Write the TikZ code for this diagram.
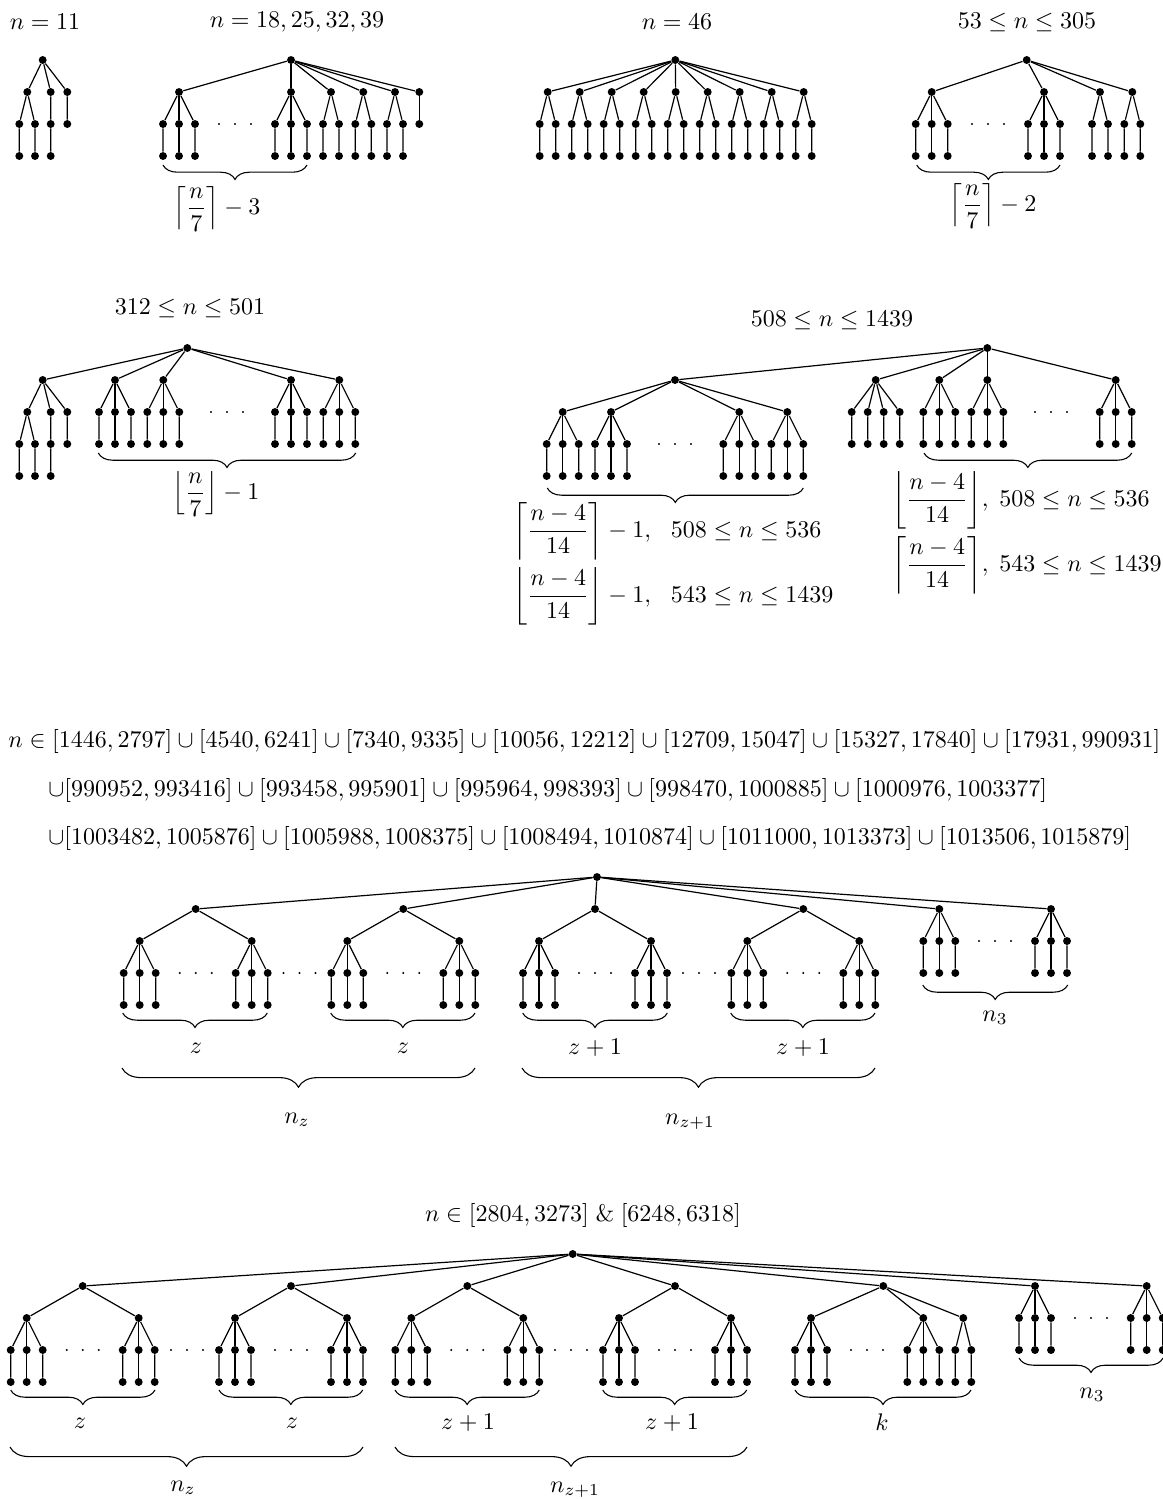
\documentclass[tikz,border=0pt]{standalone}
\usetikzlibrary{decorations.pathreplacing}
\tikzset{
 vtx/.style={circle,fill,inner sep=0pt,minimum size=3.3pt},
 edge/.style={line width=0.5pt},
 brc/.style={decorate,decoration={brace,mirror,amplitude=6pt},line width=0.45pt},
 bigbrc/.style={decorate,decoration={brace,mirror,amplitude=8pt},line width=0.45pt},
 lbl/.style={inner sep=0pt},
}
\newcommand{\Tthree}[3]{%
 \node[vtx] (#1) at (#2,#3) {};
 \foreach \s/\d in {a/-16,b/0,c/16}{
  \node[vtx] (#1\s) at ({#2+(\d)},{#3+32}) {};
  \node[vtx] (#1\s l) at ({#2+(\d)},{#3+64}) {};
  \draw[edge] (#1) -- (#1\s) -- (#1\s l);
 }}
\newcommand{\Ttwo}[3]{%
 \node[vtx] (#1) at (#2,#3) {};
 \foreach \s/\d in {a/-8,b/8}{
  \node[vtx] (#1\s) at ({#2+(\d)},{#3+32}) {};
  \node[vtx] (#1\s l) at ({#2+(\d)},{#3+64}) {};
  \draw[edge] (#1) -- (#1\s) -- (#1\s l);
 }}
\newcommand{\Tfour}[3]{%
 \node[vtx] (#1) at (#2,#3) {};
 \foreach \s/\d in {a/-24,b/-8,c/8,d/24}{
  \node[vtx] (#1\s) at ({#2+(\d)},{#3+32}) {};
  \node[vtx] (#1\s l) at ({#2+(\d)},{#3+64}) {};
  \draw[edge] (#1) -- (#1\s) -- (#1\s l);
 }}
\newcommand{\threedots}[2]{%
 \foreach \k in {-16,0,16}{\fill ({#1+(\k)},#2) circle[radius=1.1];}}
\newcommand{\Tz}[3]{%
 \node[vtx] (#1) at (#2,#3) {};
 \Tthree{#1L}{#2-56}{#3+32}
 \Tthree{#1R}{#2+56}{#3+32}
 \draw[edge] (#1L) -- (#1) -- (#1R);
 \threedots{#2}{#3+64}}
\newcommand{\Televen}[3]{%
 \node[vtx] (#1) at (#2,#3) {};
 \node[vtx] (#1A) at ({#2-15.4},{#3+32}) {};
 \node[vtx] (#1B) at ({#2+8},{#3+32}) {};
 \node[vtx] (#1C) at ({#2+24.6},{#3+32}) {};
 \node[vtx] (#1a) at ({#2-23.4},{#3+64}) {};
 \node[vtx] (#1b) at ({#2-7.7},{#3+64}) {};
 \node[vtx] (#1c) at ({#2+8},{#3+64}) {};
 \node[vtx] (#1d) at ({#2+24.6},{#3+64}) {};
 \node[vtx] (#1e) at ({#2-23.4},{#3+96}) {};
 \node[vtx] (#1f) at ({#2-7.7},{#3+96}) {};
 \node[vtx] (#1g) at ({#2+8},{#3+96}) {};
 \draw[edge] (#1A) -- (#1) -- (#1B) (#1) -- (#1C) (#1A) -- (#1a) -- (#1e)
   (#1A) -- (#1b) -- (#1f) (#1B) -- (#1c) -- (#1g) (#1C) -- (#1d);}
\begin{document}
\begin{tikzpicture}[x=0.41667pt,y=-0.41667pt]
\useasboundingbox (0,0) rectangle (1163,1499);
% ---------- titles row 1
\node[lbl] (h1) at (45,22) {$n=11$};
\node[lbl] (h2) at (297,22) {$n=18,25,32,39$};
\node[lbl] (h3) at (677,22) {$n=46$};
\node[lbl] (h4) at (1027,22) {$53\le n\le 305$};
% ---------- tree 1
\Televen{t1}{42.7}{60}
% ---------- tree 2
\node[vtx] (r2) at (291,60) {};
\Tthree{t2a}{179}{92}
\Tthree{t2b}{291}{92}
\Ttwo{t2c}{331}{92}
\Ttwo{t2d}{363.3}{92}
\Ttwo{t2e}{395}{92}
\node[vtx] (t2f) at (419.3,92) {};
\node[vtx] (t2g) at (419.3,124) {};
\foreach \t in {t2a,t2b,t2c,t2d,t2e,t2f} \draw[edge] (r2) -- (\t);
\draw[edge] (t2f) -- (t2g);
\threedots{235}{124}
\coordinate (b2a) at (163,165); \coordinate (b2b) at (307,165);
\draw[brc] (b2a) -- (b2b);
\node[lbl] (l2) at (217,209) {$\displaystyle\left\lceil\frac{n}{7}\right\rceil-3$};
% ---------- tree 3
\node[vtx] (r3) at (675.3,60) {};
\foreach \k in {0,...,8}{\Ttwo{t3\k}{547.7+32*\k}{92} \draw[edge] (r3) -- (t3\k);}
% ---------- tree 4
\node[vtx] (r4) at (1026.7,60) {};
\Tthree{t4a}{931.7}{92}
\Tthree{t4b}{1044}{92}
\Ttwo{t4c}{1100}{92}
\Ttwo{t4d}{1132.3}{92}
\foreach \t in {t4a,t4b,t4c,t4d} \draw[edge] (r4) -- (\t);
\threedots{988}{124}
\coordinate (b4a) at (916.7,165); \coordinate (b4b) at (1060,165);
\draw[brc] (b4a) -- (b4b);
\node[lbl] (l4) at (993,206) {$\displaystyle\left\lceil\frac{n}{7}\right\rceil-2$};
% ---------- tree 5
\node[lbl] (h5) at (190,308) {$312\le n\le 501$};
\node[vtx] (r5) at (187.3,348) {};
\Televen{t5a}{42.7}{380}
\Tthree{t5b}{115}{380}
\Tthree{t5c}{163.3}{380}
\Tthree{t5d}{291}{380}
\Tthree{t5e}{339.3}{380}
\foreach \t in {t5a,t5b,t5c,t5d,t5e} \draw[edge] (r5) -- (\t);
\threedots{227}{412}
\coordinate (b5a) at (98.3,453); \coordinate (b5b) at (355.7,453);
\draw[brc] (b5a) -- (b5b);
\node[lbl] (l5) at (216,494) {$\displaystyle\left\lfloor\frac{n}{7}\right\rfloor-1$};
% ---------- tree 6
\node[lbl] (h6) at (832,320) {$508\le n\le 1439$};
\node[vtx] (r6) at (987.3,348) {};
\node[vtx] (t6L) at (675,380) {};
\Tthree{t6a}{562.7}{412}
\Tthree{t6b}{611}{412}
\Tthree{t6c}{739.3}{412}
\Tthree{t6d}{787.3}{412}
\foreach \t in {t6a,t6b,t6c,t6d} \draw[edge] (t6L) -- (\t);
\threedots{675}{444}
\coordinate (b6a) at (547.3,488); \coordinate (b6b) at (803.3,488);
\draw[brc] (b6a) -- (b6b);
\Tfour{t6e}{875.7}{380}
\Tthree{t6f}{939.3}{380}
\Tthree{t6g}{987.3}{380}
\Tthree{t6h}{1115.7}{380}
\foreach \t in {t6L,t6e,t6f,t6g,t6h} \draw[edge] (r6) -- (\t);
\threedots{1051}{412}
\coordinate (b6c) at (924,453); \coordinate (b6d) at (1131.7,453);
\draw[brc] (b6c) -- (b6d);
\node[lbl,anchor=west] (l6a) at (513,531) {$\displaystyle\left\lceil\frac{n-4}{14}\right\rceil-1,\ \ 508\le n\le 536$};
\node[lbl,anchor=west] (l6b) at (513,596) {$\displaystyle\left\lfloor\frac{n-4}{14}\right\rfloor-1,\ \ 543\le n\le 1439$};
\node[lbl,anchor=west] (l6c) at (892,500) {$\displaystyle\left\lfloor\frac{n-4}{14}\right\rfloor\!,\;508\le n\le 536$};
\node[lbl,anchor=west] (l6d) at (892,565) {$\displaystyle\left\lceil\frac{n-4}{14}\right\rceil\!,\;543\le n\le 1439$};
% ---------- equation lines
\node[lbl,anchor=west] (e1) at (8,741) {$n\in[1446,2797]\cup[4540,6241]\cup[7340,9335]\cup[10056,12212]\cup[12709,15047]\cup[15327,17840]\cup[17931,990931]$};
\node[lbl,anchor=west] (e2) at (48,790) {$\cup[990952,993416]\cup[993458,995901]\cup[995964,998393]\cup[998470,1000885]\cup[1000976,1003377]$};
\node[lbl,anchor=west] (e3) at (48,838) {$\cup[1003482,1005876]\cup[1005988,1008375]\cup[1008494,1010874]\cup[1011000,1013373]\cup[1013506,1015879]$};
% ---------- tree 7
\node[vtx] (r7) at (597,877) {};
\Tz{t7a}{195.7}{909}
\Tz{t7b}{403.3}{909}
\Tz{t7c}{595}{909}
\Tz{t7d}{803.3}{909}
\Tthree{t7e}{939.3}{909}
\Tthree{t7f}{1051}{909}
\foreach \t in {t7a,t7b,t7c,t7d,t7e,t7f} \draw[edge] (r7) -- (\t);
\threedots{299.5}{973}
\threedots{699}{973}
\threedots{995}{941}
\foreach \i/\a/\b in {1/122.7/267.3,2/330.7/475,3/522.7/667.3,4/730.7/875}{
 \coordinate (b7\i a) at (\a,1013); \coordinate (b7\i b) at (\b,1013);
 \draw[brc] (b7\i a) -- (b7\i b);}
\coordinate (b7na) at (922.7,985); \coordinate (b7nb) at (1067.7,985);
\draw[brc] (b7na) -- (b7nb);
\node[lbl] (l7a) at (196,1048) {$z$};
\node[lbl] (l7b) at (403,1048) {$z$};
\node[lbl] (l7c) at (595,1048) {$z+1$};
\node[lbl] (l7d) at (803,1048) {$z+1$};
\node[lbl] (l7n) at (995,1018) {$n_3$};
\coordinate (b7za) at (122,1068); \coordinate (b7zb) at (475,1068);
\draw[bigbrc] (b7za) -- (b7zb);
\coordinate (b7ya) at (522,1068); \coordinate (b7yb) at (875,1068);
\draw[bigbrc] (b7ya) -- (b7yb);
\node[lbl] (l7z) at (297,1120) {$n_z$};
\node[lbl] (l7y) at (690,1122) {$n_{z+1}$};
% ---------- tree 8
\node[lbl] (h8) at (583,1215) {$n\in[2804,3273]\;\&\;[6248,6318]$};
\node[vtx] (r8) at (572.7,1254) {};
\Tz{t8a}{82.7}{1286}
\Tz{t8b}{291}{1286}
\Tz{t8c}{467.3}{1286}
\Tz{t8d}{675}{1286}
\node[vtx] (t8k) at (883.3,1286) {};
\Tthree{t8kL}{811}{1318}
\Tthree{t8kR}{923.3}{1318}
\Ttwo{t8kS}{963.3}{1318}
\foreach \t in {t8kL,t8kR,t8kS} \draw[edge] (t8k) -- (\t);
\threedots{867}{1350}
\Tthree{t8e}{1035}{1286}
\Tthree{t8f}{1146.7}{1286}
\threedots{1091}{1318}
\foreach \t in {t8a,t8b,t8c,t8d,t8k,t8e,t8f} \draw[edge] (r8) -- (\t);
\threedots{187}{1350}
\threedots{571}{1350}
\foreach \i/\a/\b in {1/10.7/155,2/219/362.7,3/395/539.3,4/602.7/746.7,5/795/971}{
 \coordinate (b8\i a) at (\a,1390); \coordinate (b8\i b) at (\b,1390);
 \draw[brc] (b8\i a) -- (b8\i b);}
\coordinate (b8na) at (1019,1358); \coordinate (b8nb) at (1163,1358);
\draw[brc] (b8na) -- (b8nb);
\node[lbl] (l8a) at (80,1423) {$z$};
\node[lbl] (l8b) at (292,1423) {$z$};
\node[lbl] (l8c) at (468,1423) {$z+1$};
\node[lbl] (l8d) at (672,1423) {$z+1$};
\node[lbl] (l8k) at (882,1422) {$k$};
\node[lbl] (l8n) at (1092,1395) {$n_3$};
\coordinate (b8za) at (10,1447); \coordinate (b8zb) at (363,1447);
\draw[bigbrc] (b8za) -- (b8zb);
\coordinate (b8ya) at (395,1447); \coordinate (b8yb) at (747,1447);
\draw[bigbrc] (b8ya) -- (b8yb);
\node[lbl] (l8z) at (183,1488) {$n_z$};
\node[lbl] (l8y) at (575,1490) {$n_{z+1}$};
\end{tikzpicture}
\end{document}
